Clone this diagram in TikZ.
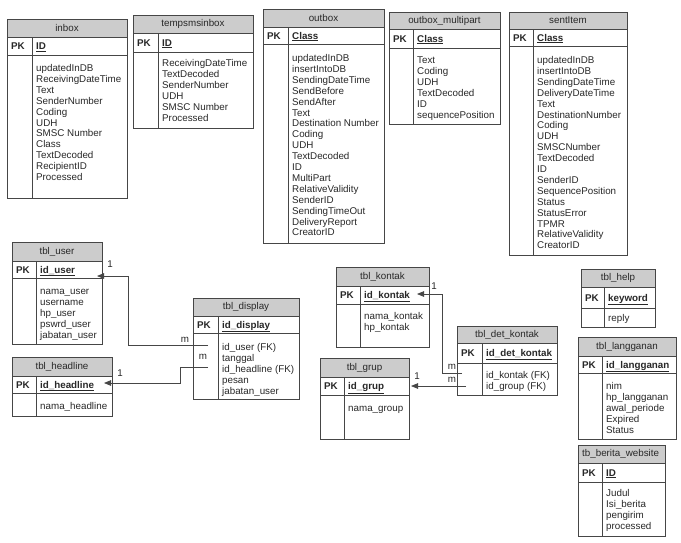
\documentclass[tikz,border=0pt]{standalone}
\usepackage{fontspec}
\setmainfont{Liberation Sans}
\usetikzlibrary{arrows.meta,calc}
\definecolor{hdr}{RGB}{204,204,204}
\definecolor{ln}{RGB}{70,70,70}
\definecolor{tx}{RGB}{40,40,40}
\tikzset{
  tblline/.style={draw=ln, line width=0.9pt},
  hdrfill/.style={fill=hdr},
  txt/.style={inner sep=0pt, text=tx, font=\fontsize{9.8}{10.9}\selectfont},
  titletext/.style={txt},
  pktext/.style={txt, font=\fontsize{9.8}{10.9}\selectfont\bfseries, anchor=base west},
  fieldtext/.style={txt, anchor=base west},
  rel/.style={draw=ln, line width=0.8pt, -{Triangle[length=7pt,width=5.5pt]}},
  card/.style={txt}
}
% #1 name, #2 title, #3 left, #4 top, #5 right, #6 bottom, #7 header bottom, #8 pk bottom, #9 divider
\newcommand\erbox[9]{%
  \def\erL{#3}\def\erT{#4}\def\erR{#5}\def\erB{#6}\def\erHB{#7}\def\erPKB{#8}\def\erDiv{#9}%
  \fill[hdrfill] (#3,#4) rectangle (#5,#7);
  \draw[tblline] (#3,#4) rectangle (#5,#6);
  \draw[tblline] (#3,#7) -- (#5,#7);
  \draw[tblline] (#3,#8) -- (#5,#8);
  \draw[tblline] (#9,#7) -- (#9,#6);
  \node[titletext] (#1-title) at ({(#3+#5)/2},{(#4+#7)/2}) {#2};
  \node[pktext] (#1-pk) at ({#3+4},{(#7+#8)/2+3.5}) {PK};
}
% #1 name, #2 key, #3 first field centre y, #4 list of fields
\newcommand\erfields[4]{%
  \begin{scope}
    \clip (\erDiv,\erHB) rectangle (\erR,\erPKB);
    \node[pktext] (#1-key) at ({\erDiv+4},{(\erHB+\erPKB)/2+3.5}) {\underline{#2}};
  \end{scope}
  \begin{scope}
    \clip (\erDiv,\erPKB) rectangle (\erR,\erB);
    \foreach \f [count=\i from 0] in {#4} {
      \node[fieldtext] (#1-f\i) at ({\erDiv+4},{#3+\i*10.9+3.5}) {\f};
    }
  \end{scope}
}
\begin{document}
\begin{tikzpicture}[x=1pt,y=-1pt]
\useasboundingbox[fill=white] (0,0) rectangle (681,542);

\erbox{inbox}{inbox}{7}{19}{127}{198}{37}{55}{32}
\erfields{inbox}{ID}{68}{updatedInDB,ReceivingDateTime,Text,SenderNumber,Coding,UDH,SMSC Number,Class,TextDecoded,RecipientID,Processed}

\erbox{temp}{tempsmsinbox}{133}{15}{253}{128}{33}{52}{158}
\erfields{temp}{ID}{63}{ReceivingDateTime,TextDecoded,SenderNumber,UDH,SMSC Number,Processed}

\erbox{outbox}{outbox}{263}{9}{384}{243}{27}{44}{288}
\erfields{outbox}{Class}{58}{updatedInDB,insertIntoDB,SendingDateTime,SendBefore,SendAfter,Text,Destination Number,Coding,UDH,TextDecoded,ID,MultiPart,RelativeValidity,SenderID,SendingTimeOut,DeliveryReport,CreatorID}

\erbox{multi}{outbox\_multipart}{389}{12}{500}{124}{29}{48}{413}
\erfields{multi}{Class}{60}{Text,Coding,UDH,TextDecoded,ID,sequencePosition}

\erbox{sent}{sentItem}{509}{12}{627}{255}{29}{46}{533}
\erfields{sent}{Class}{60}{updatedInDB,insertIntoDB,SendingDateTime,DeliveryDateTime,Text,DestinationNumber,Coding,UDH,SMSCNumber,TextDecoded,ID,SenderID,SequencePosition,Status,StatusError,TPMR,RelativeValidity,CreatorID}

\erbox{user}{tbl\_user}{12}{242}{102}{344}{261}{278}{36}
\erfields{user}{id\_user}{291}{nama\_user,username,hp\_user,pswrd\_user,jabatan\_user}

\erbox{head}{tbl\_headline}{12}{357}{112}{416}{376}{393}{36}
\erfields{head}{id\_headline}{406}{nama\_headline}

\erbox{disp}{tbl\_display}{193}{298}{299}{399}{316}{333}{218}
\erfields{disp}{id\_display}{347}{id\_user (FK),tanggal,id\_headline (FK),pesan,jabatan\_user}

\erbox{kontak}{tbl\_kontak}{336}{267}{429}{347}{286}{304}{360}
\erfields{kontak}{id\_kontak}{316}{nama\_kontak,hp\_kontak}

\erbox{grup}{tbl\_grup}{320}{358}{409}{439}{377}{395}{344}
\erfields{grup}{id\_grup}{408}{nama\_group}

\erbox{det}{tbl\_det\_kontak}{457}{326}{557}{395}{343}{363}{482}
\erfields{det}{id\_det\_kontak}{375}{id\_kontak (FK),id\_group (FK)}

\erbox{help}{tbl\_help}{581}{269}{655}{327}{287}{308}{604}
\erfields{help}{keyword}{318}{reply}

\erbox{lang}{tbl\_langganan}{578}{337}{676}{439}{356}{373}{602}
\erfields{lang}{id\_langganan}{386}{nim,hp\_langganan,awal\_periode,Expired,Status}

\erbox{berita}{}{578}{445}{665}{536}{463}{482}{602}
\begin{scope}
\clip (578,445) rectangle (665,463);
\node[titletext, anchor=west] (berita-ttl) at (582,454) {tb\_berita\_website};
\end{scope}
\erfields{berita}{ID}{493}{Judul,Isi\_berita,pengirim,processed}

% connector end points
\coordinate (dispU) at (208,345);
\coordinate (dispH) at (208,367);
\coordinate (userK) at (97,276);
\coordinate (headK) at (104,383);
\coordinate (detK) at (462,373);
\coordinate (detG) at (466,386);
\coordinate (kontakK) at (417,294);
\coordinate (grupK) at (411,386);

\draw[rel] (dispU) -- ++(-80,0) |- (userK);
\draw[rel] (dispH) -- ++(-28,0) |- (headK);
\draw[rel] (detK) -- ++(-20,0) |- (kontakK);
\draw[rel] (detG) -- (grupK);

\node[card] (c1) at (110,264) {1};
\node[card] (c2) at (185,340) {m};
\node[card] (c3) at (120,373) {1};
\node[card] (c4) at (203,357) {m};
\node[card] (c5) at (434,286) {1};
\node[card] (c6) at (452,367) {m};
\node[card] (c7) at (417,376) {1};
\node[card] (c8) at (452,380) {m};
\end{tikzpicture}
\end{document}
